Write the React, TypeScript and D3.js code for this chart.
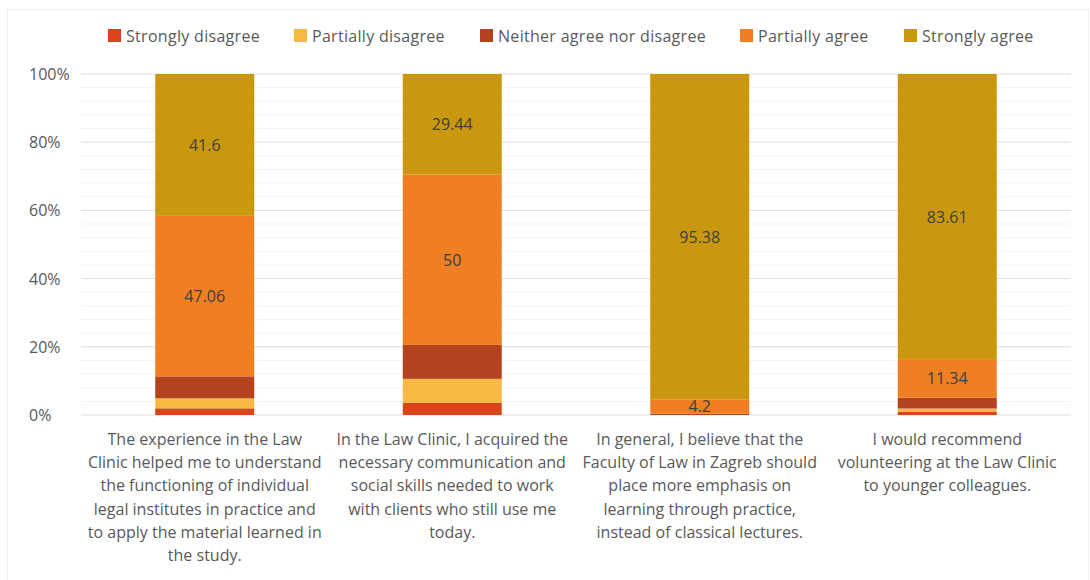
import React from 'react';
import * as d3 from 'd3';

// Survey statements, one array of wrapped lines per bar
const categoryLines: string[][] = [
  [
    'The experience in the Law',
    'Clinic helped me to understand',
    'the functioning of individual',
    'legal institutes in practice and',
    'to apply the material learned in',
    'the study.',
  ],
  [
    'In the Law Clinic, I acquired the',
    'necessary communication and',
    'social skills needed to work',
    'with clients who still use me',
    'today.',
  ],
  [
    'In general, I believe that the',
    'Faculty of Law in Zagreb should',
    'place more emphasis on',
    'learning through practice,',
    'instead of classical lectures.',
  ],
  [
    'I would recommend',
    'volunteering at the Law Clinic',
    'to younger colleagues.',
  ],
];

const seriesNames = [
  'Strongly disagree',
  'Partially disagree',
  'Neither agree nor disagree',
  'Partially agree',
  'Strongly agree',
];
const seriesColors = ['#DA4419', '#F8B942', '#B3421E', '#EF7F22', '#C9980E'];

// Percentages per statement
const stronglyDisagree = [1.96, 3.6, 0, 1.0];
const partiallyDisagree = [2.94, 7.0, 0, 0.9];
const neitherAgree = [6.44, 9.96, 0.42, 3.15];
const partiallyAgree = [47.06, 50, 4.2, 11.34];
const stronglyAgree = [41.6, 29.44, 95.38, 83.61];

const majorTicks = [0, 20, 40, 60, 80, 100];
const minorTicks = d3.range(0, 101, 4).filter((t) => t % 20 !== 0);
const labelledSeries = [3, 4];

const W = 1090;
const H = 580;
const FONT = '"Open Sans", Lato, sans-serif';

export default function App() {
  const seriesValues = [stronglyDisagree, partiallyDisagree, neitherAgree, partiallyAgree, stronglyAgree];
  const rows = categoryLines.map((_, i) => {
    const r: Record<string, number> = { idx: i };
    seriesNames.forEach((n, s) => (r[n] = seriesValues[s][i]));
    return r;
  });
  const stacked = d3.stack<Record<string, number>>().keys(seriesNames)(rows);

  const x = d3
    .scaleBand<number>()
    .domain(d3.range(categoryLines.length))
    .range([81, 1071])
    .paddingInner(0.6)
    .paddingOuter(0.3);
  const y = d3.scaleLinear().domain([0, 100]).range([415, 74]);

  const legendX = [108, 294, 480, 740, 904];

  return (
    <div style={{ position: 'fixed', left: 0, top: 0 }}>
      <svg width={W} height={H} style={{ display: 'block', background: '#fff' }}>
        <rect x={7.5} y={9.5} width={1081} height={580} fill="#fff" stroke="#ececec" />

        {/* legend */}
        {seriesNames.map((n, i) => (
          <g key={n} transform={`translate(${legendX[i]},0)`}>
            <rect x={0} y={29} width={13} height={13} fill={seriesColors[i]} />
            <text
              x={18}
              y={36}
              dominantBaseline="central"
              fontFamily={FONT}
              fontSize={16}
              letterSpacing={0.3}
              fill="#595959"
            >
              {n}
            </text>
          </g>
        ))}

        {/* gridlines */}
        {minorTicks.map((t) => (
          <line key={'m' + t} x1={81} x2={1071} y1={y(t)} y2={y(t)} stroke="#f3f3f3" strokeWidth={1} />
        ))}
        {majorTicks.map((t) => (
          <line key={'M' + t} x1={81} x2={1071} y1={y(t)} y2={y(t)} stroke="#dcdcdc" strokeWidth={1} />
        ))}

        {/* y tick labels */}
        {majorTicks.map((t) => (
          <text
            key={'t' + t}
            x={29}
            y={y(t)}
            dominantBaseline="central"
            fontFamily={FONT}
            fontSize={16}
            fill="#595959"
          >
            {d3.format('.0%')(t / 100)}
          </text>
        ))}

        {/* stacked bars */}
        {stacked.map((layer, s) => (
          <g key={layer.key} fill={seriesColors[s]}>
            {layer.map((d, i) => (
              <rect
                key={i}
                x={x(i)}
                width={x.bandwidth()}
                y={y(d[1])}
                height={Math.max(0, y(d[0]) - y(d[1]))}
              />
            ))}
          </g>
        ))}

        {/* value labels */}
        {stacked
          .filter((_, s) => labelledSeries.includes(s))
          .map((layer) =>
            layer.map((d, i) => (
              <text
                key={layer.key + i}
                x={(x(i) as number) + x.bandwidth() / 2}
                y={y((d[0] + d[1]) / 2)}
                textAnchor="middle"
                dominantBaseline="central"
                fontFamily={FONT}
                fontSize={16}
                fill="#404040"
              >
                {d[1] - d[0] > 0 ? String(+(d[1] - d[0]).toFixed(2)) : ''}
              </text>
            ))
          )}

        {/* category labels */}
        {categoryLines.map((lines, i) => (
          <text
            key={'c' + i}
            textAnchor="middle"
            fontFamily={FONT}
            fontSize={16}
            fill="#595959"
          >
            {lines.map((l, k) => (
              <tspan
                key={k}
                x={(x(i) as number) + x.bandwidth() / 2}
                y={439 + k * 23.2}
                dominantBaseline="central"
              >
                {l}
              </tspan>
            ))}
          </text>
        ))}
      </svg>
    </div>
  );
}
